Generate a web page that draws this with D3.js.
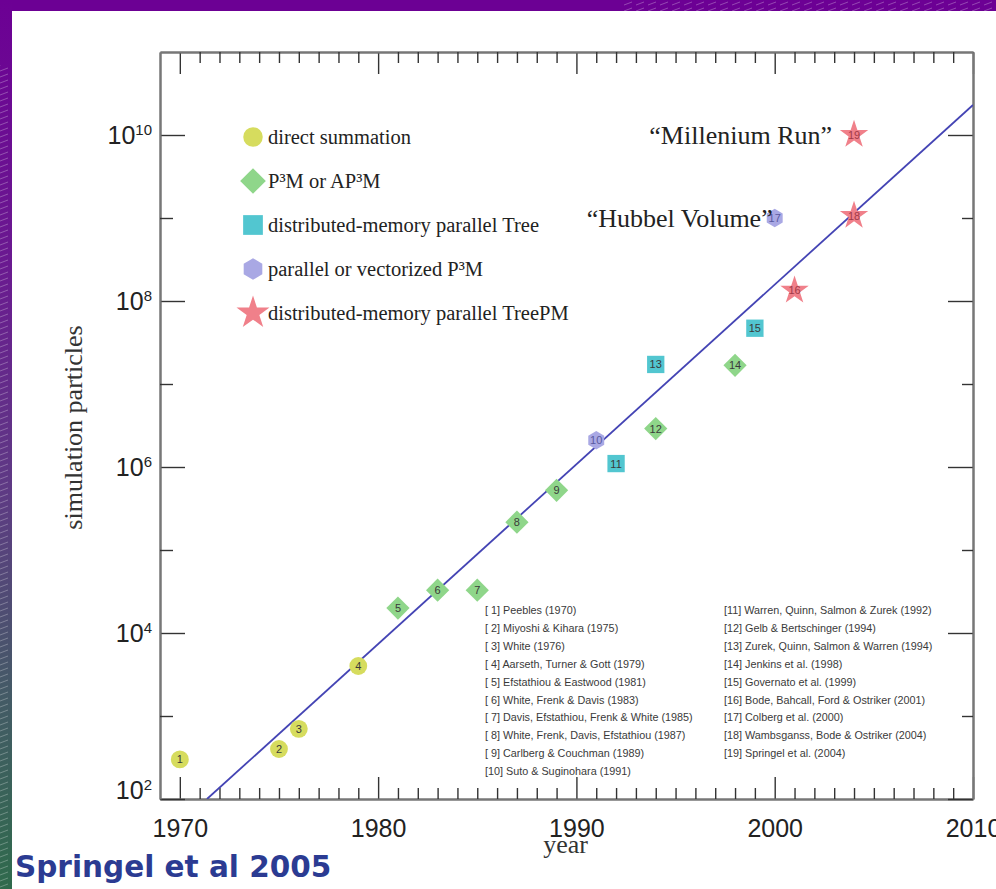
<!DOCTYPE html>
<html>
<head>
<meta charset="utf-8">
<title>Simulation particles vs year</title>
<script src="https://cdn.jsdelivr.net/npm/d3@7"></script>
<style>
  html, body { margin: 0; padding: 0; background: #fff; }
  svg { display: block; }
  .serif { font-family: "Liberation Serif", "Times New Roman", serif; }
  .sans { font-family: "Liberation Sans", Arial, sans-serif; }
</style>
</head>
<body>
<svg id="chart" width="996" height="889"></svg>
<script>
// ---- data ----
const refIds = d3.range(1, 20);
const refYears = [1970, 1975, 1976, 1979, 1981, 1983, 1985, 1987, 1989, 1991,
                  1992, 1994, 1994, 1998, 1999, 2001, 2000, 2004, 2004];
const refParticles = [300, 400, 700, 4000, 20000, 32768, 32768, 216000, 524288, 2.1e6,
                      1.1e6, 2.9e6, 1.72e7, 1.68e7, 4.7e7, 1.34e8, 1.0e9, 1.07e9, 1.0078e10];
const refMethods = ["direct", "direct", "direct", "direct", "p3m", "p3m", "p3m", "p3m", "p3m", "vector",
                    "tree", "p3m", "tree", "p3m", "tree", "treepm", "vector", "treepm", "treepm"];
const refCitations = [
  "[ 1] Peebles (1970)",
  "[ 2] Miyoshi & Kihara (1975)",
  "[ 3] White (1976)",
  "[ 4] Aarseth, Turner & Gott (1979)",
  "[ 5] Efstathiou & Eastwood (1981)",
  "[ 6] White, Frenk & Davis (1983)",
  "[ 7] Davis, Efstathiou, Frenk & White (1985)",
  "[ 8] White, Frenk, Davis, Efstathiou (1987)",
  "[ 9] Carlberg & Couchman (1989)",
  "[10] Suto & Suginohara (1991)",
  "[11] Warren, Quinn, Salmon & Zurek (1992)",
  "[12] Gelb & Bertschinger (1994)",
  "[13] Zurek, Quinn, Salmon & Warren (1994)",
  "[14] Jenkins et al. (1998)",
  "[15] Governato et al. (1999)",
  "[16] Bode, Bahcall, Ford & Ostriker (2001)",
  "[17] Colberg et al. (2000)",
  "[18] Wambsganss, Bode & Ostriker (2004)",
  "[19] Springel et al. (2004)"
];
const methodKeys = ["direct", "p3m", "tree", "vector", "treepm"];
const methodLabels = ["direct summation", "P³M or AP³M", "distributed-memory parallel Tree",
                      "parallel or vectorized P³M", "distributed-memory parallel TreePM"];
const methodColors = ["#d6dc5e", "#8fd68a", "#52c6d0", "#a9a8e4", "#f0808a"];
// fitted growth line (Moore's-law style doubling)
const trendYears = [1971.37, 2010];
const trendParticles = [1e2, 2.3e10];
const yearTicks = [1970, 1980, 1990, 2000, 2010];
const decadeTicks = [1e2, 1e4, 1e6, 1e8, 1e10];
const oddDecadeTicks = [1e3, 1e5, 1e7, 1e9];
const callouts = [
  { text: "“Millenium Run”", ref: 19 },
  { text: "“Hubbel Volume”", ref: 17 }
];
const sourceNote = "Springel et al 2005";

// ---- setup ----
const W = 996, H = 889;
const svg = d3.select("#chart");
const defs = svg.append("defs");

// slide background: purple/green border with hatched texture
const grad = defs.append("linearGradient").attr("id", "sideGrad")
  .attr("x1", 0).attr("y1", 0).attr("x2", 0).attr("y2", 1);
[[0, "#6c0094"], [0.3, "#6a1a90"], [0.55, "#5e3a84"], [0.78, "#445a66"], [1, "#2f6a4c"]]
  .forEach(([o, c]) => grad.append("stop").attr("offset", o).attr("stop-color", c));
const hatch = defs.append("pattern").attr("id", "hatch")
  .attr("width", 12).attr("height", 6).attr("patternUnits", "userSpaceOnUse");
hatch.append("line").attr("x1", 0).attr("y1", 5).attr("x2", 8).attr("y2", 2)
  .attr("stroke", "#ffffff").attr("stroke-opacity", 0.35).attr("stroke-width", 0.8);

svg.append("rect").attr("width", W).attr("height", H).attr("fill", "#ffffff");
svg.append("rect").attr("x", 0).attr("y", 0).attr("width", W).attr("height", 11).attr("fill", "#6c0094");
svg.append("rect").attr("x", 620).attr("y", 0).attr("width", W - 620).attr("height", 11).attr("fill", "url(#hatch)");
svg.append("rect").attr("x", 0).attr("y", 0).attr("width", 12).attr("height", H).attr("fill", "url(#sideGrad)");
svg.append("rect").attr("x", 0).attr("y", 65).attr("width", 12).attr("height", H - 65).attr("fill", "url(#hatch)");

// ---- scales ----
const plot = { left: 160, right: 973, top: 52, bottom: 799 };
const x = d3.scaleLinear().domain([1969, 2010]).range([plot.left, plot.right]);
const y = d3.scaleLog().domain([1e2, 1e11]).range([plot.bottom, plot.top]);

const minorYears = d3.range(1970, 2011).filter(v => v % 10 !== 0);

function styleAxis(g) {
  g.select(".domain").attr("stroke", "#777").attr("stroke-width", 2);
  g.selectAll(".tick line").attr("stroke", "#333").attr("stroke-width", 1.4);
}

// bottom axis
const gBottom = svg.append("g").attr("transform", `translate(0,${plot.bottom})`)
  .call(d3.axisBottom(x).tickValues(yearTicks).tickFormat(d3.format("d"))
    .tickSizeInner(-22).tickSizeOuter(0).tickPadding(20));
gBottom.call(styleAxis);
gBottom.selectAll("text").attr("class", "sans").attr("font-size", 25).attr("fill", "#222");
svg.append("g").attr("transform", `translate(0,${plot.bottom})`)
  .call(d3.axisBottom(x).tickValues(minorYears).tickFormat("").tickSizeInner(-11).tickSizeOuter(0))
  .call(styleAxis);

// top axis
svg.append("g").attr("transform", `translate(0,${plot.top})`)
  .call(d3.axisTop(x).tickValues(yearTicks).tickFormat("").tickSizeInner(-22).tickSizeOuter(0))
  .call(styleAxis);
svg.append("g").attr("transform", `translate(0,${plot.top})`)
  .call(d3.axisTop(x).tickValues(minorYears).tickFormat("").tickSizeInner(-11).tickSizeOuter(0))
  .call(styleAxis);

// left axis with power-of-ten labels
const gLeft = svg.append("g").attr("transform", `translate(${plot.left},0)`)
  .call(d3.axisLeft(y).tickValues(decadeTicks).tickFormat("")
    .tickSizeInner(-25).tickSizeOuter(0).tickPadding(8));
gLeft.call(styleAxis);
gLeft.selectAll(".tick text").each(function (d) {
  const t = d3.select(this).attr("class", "sans").attr("font-size", 25).attr("fill", "#222")
    .attr("dy", d === 1e2 ? "-0.02em" : "0.34em");
  t.text(null);
  t.append("tspan").text("10");
  t.append("tspan").attr("font-size", 15).attr("dy", "-0.62em").text(Math.round(Math.log10(d)));
});
svg.append("g").attr("transform", `translate(${plot.left},0)`)
  .call(d3.axisLeft(y).tickValues(oddDecadeTicks).tickFormat("").tickSizeInner(-13).tickSizeOuter(0))
  .call(styleAxis);

// right axis
svg.append("g").attr("transform", `translate(${plot.right},0)`)
  .call(d3.axisRight(y).tickValues(decadeTicks).tickFormat("").tickSizeInner(-25).tickSizeOuter(0))
  .call(styleAxis);
svg.append("g").attr("transform", `translate(${plot.right},0)`)
  .call(d3.axisRight(y).tickValues(oddDecadeTicks).tickFormat("").tickSizeInner(-11).tickSizeOuter(0))
  .call(styleAxis);

// axis titles
svg.append("text").attr("class", "serif").attr("font-size", 26).attr("fill", "#333")
  .attr("text-anchor", "middle")
  .attr("x", (x(1969) + x(2010)) / 2 - 1).attr("y", 853).text("year");
svg.append("text").attr("class", "serif").attr("font-size", 26).attr("fill", "#333")
  .attr("text-anchor", "middle")
  .attr("transform", `translate(82,${(plot.top + plot.bottom) / 2 + 2}) rotate(-90)`)
  .text("simulation particles");

// ---- trend line ----
defs.append("clipPath").attr("id", "plotClip").append("rect")
  .attr("x", plot.left).attr("y", plot.top)
  .attr("width", plot.right - plot.left).attr("height", plot.bottom - plot.top);
const trend = trendYears.map((yr, i) => [yr, trendParticles[i]]);
svg.append("path").datum(trend)
  .attr("clip-path", "url(#plotClip)")
  .attr("fill", "none").attr("stroke", "#4444b4").attr("stroke-width", 1.8)
  .attr("d", d3.line().x(d => x(d[0])).y(d => y(d[1])));

// ---- marker shapes ----
const symbolDiamondSq = {
  draw(ctx, size) {
    const r = Math.sqrt(size / 2);
    ctx.moveTo(0, -r); ctx.lineTo(r, 0); ctx.lineTo(0, r); ctx.lineTo(-r, 0); ctx.closePath();
  }
};
const symbolHexagon = {
  draw(ctx, size) {
    const r = Math.sqrt(size / (1.5 * Math.sqrt(3)));
    for (let i = 0; i < 6; i++) {
      const a = Math.PI / 6 + i * Math.PI / 3;
      const px = r * Math.cos(a), py = r * Math.sin(a);
      if (i === 0) ctx.moveTo(px, py); else ctx.lineTo(px, py);
    }
    ctx.closePath();
  }
};
const methodSymbols = [d3.symbolCircle, symbolDiamondSq, d3.symbolSquare, symbolHexagon, d3.symbolStar];
const plotSizes = [250, 270, 300, 220, 250];
const legendSizes = [300, 330, 390, 300, 340];
const colorOf = d3.scaleOrdinal().domain(methodKeys).range(methodColors);
const symOf = d3.scaleOrdinal().domain(methodKeys).range(methodSymbols);
const sizeOf = d3.scaleOrdinal().domain(methodKeys).range(plotSizes);
const legendSizeOf = d3.scaleOrdinal().domain(methodKeys).range(legendSizes);

// ---- data markers ----
const points = refIds.map((id, i) => ({
  id, year: refYears[i], n: refParticles[i], method: refMethods[i]
}));
const mg = svg.append("g").selectAll("g").data(points).join("g")
  .attr("transform", d => `translate(${x(d.year)},${y(d.n)})`);
mg.append("path")
  .attr("d", d => d3.symbol().type(symOf(d.method)).size(sizeOf(d.method))())
  .attr("fill", d => colorOf(d.method));
mg.append("text").attr("class", "sans").attr("font-size", 11)
  .attr("text-anchor", "middle").attr("dy", "0.36em")
  .attr("fill", d => d.method === "treepm" ? "#a03a48" : (d.method === "vector" ? "#5a5aa0" : "#3a3a3a"))
  .text(d => d.id);

// ---- call-outs ----
callouts.forEach(c => {
  const p = points[c.ref - 1];
  svg.append("text").attr("class", "serif").attr("font-size", 26).attr("fill", "#222")
    .attr("text-anchor", "end")
    .attr("x", x(p.year) - (c.ref === 19 ? 22 : 2))
    .attr("y", y(p.n) + 9)
    .text(c.text);
});

// ---- legend ----
const lg = svg.append("g").selectAll("g").data(methodKeys).join("g")
  .attr("transform", (d, i) => `translate(253,${137 + i * 44})`);
lg.append("path")
  .attr("d", d => d3.symbol().type(symOf(d)).size(legendSizeOf(d))())
  .attr("fill", d => colorOf(d));
lg.append("text").attr("class", "serif").attr("font-size", 20.5).attr("fill", "#222")
  .attr("x", 15).attr("dy", "0.33em")
  .text((d, i) => methodLabels[i]);

// ---- citation list ----
const cg = svg.append("g").attr("class", "sans").attr("font-size", 10.8).attr("fill", "#3a3a3a");
cg.selectAll("text").data(refCitations).join("text")
  .attr("x", (d, i) => i < 10 ? 485 : 724)
  .attr("y", (d, i) => 614 + (i % 10) * 17.9)
  .text(d => d);

// ---- source note ----
svg.append("text").attr("font-family", "'DejaVu Sans', Verdana, sans-serif")
  .attr("font-weight", "bold").attr("font-size", 29.5).attr("fill", "#2b3b92")
  .attr("x", 15).attr("y", 877).text(sourceNote);
</script>
</body>
</html>
